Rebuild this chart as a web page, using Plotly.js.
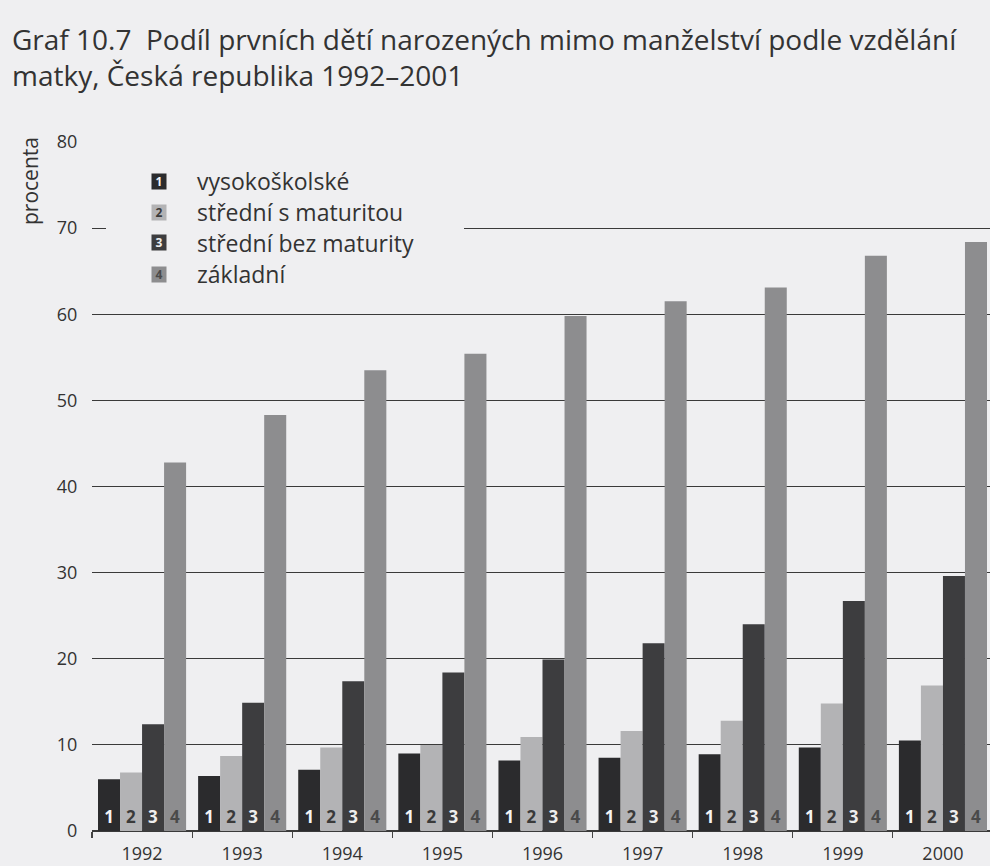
<!DOCTYPE html>
<html>
<head>
<meta charset="utf-8">
<script src="https://cdn.plot.ly/plotly-3.0.1.min.js"></script>
<style>html,body{margin:0;padding:0;background:#efeff1;}#chart{width:990px;height:866px;}</style>
</head>
<body>
<div id="chart"></div>
<script>
const years = ['1992','1993','1994','1995','1996','1997','1998','1999','2000'];
const seriesNames = ['vysokoškolské','střední s maturitou','střední bez maturity','základní'];
const seriesNumbers = ['1','2','3','4'];
const vysokoskolske = [6.0, 6.4, 7.1, 9.0, 8.2, 8.5, 8.9, 9.7, 10.5];
const stredniSMaturitou = [6.8, 8.7, 9.7, 10.0, 10.9, 11.6, 12.8, 14.8, 16.9];
const stredniBezMaturity = [12.4, 14.9, 17.4, 18.4, 19.9, 21.8, 24.0, 26.7, 29.6];
const zakladni = [42.8, 48.3, 53.5, 55.4, 59.8, 61.5, 63.1, 66.8, 68.4];
const yTicks = [0,10,20,30,40,50,60,70,80];

const values = [vysokoskolske, stredniSMaturitou, stredniBezMaturity, zakladni];
const colors = ['#2b2b2d','#b3b3b5','#3d3d3f','#8d8d8f'];
const textColors = ['#f4f4f4','#3a3a3a','#eeeeee','#4a4a4a'];

const traces = values.map((v, i) => ({
  type: 'bar',
  name: seriesNames[i],
  x: years,
  y: v,
  text: years.map(() => seriesNumbers[i]),
  textposition: 'inside',
  insidetextanchor: 'start',
  textangle: 0,
  constraintext: 'none',
  textfont: {family: 'Open Sans, sans-serif', size: 17, color: textColors[i], weight: 700},
  marker: {color: colors[i], line: {width: 0}},
  hoverinfo: 'x+y+name'
}));

const font = 'Open Sans, Noto Sans, sans-serif';
const BG = '#efeff1';

// plot-area pixel geometry used to place the key
const L = 92, W = 898, T = 142, H = 689;
const px = x => (x - L) / W;
const py = y => (T + H - y) / H;

const keyRows = [181, 212, 243, 274];
const keyAnnotations = [];
seriesNames.forEach((name, i) => {
  keyAnnotations.push({
    text: '<b>' + seriesNumbers[i] + '</b>', showarrow: false,
    xref: 'paper', yref: 'paper', x: px(159), y: py(keyRows[i]),
    xanchor: 'center', yanchor: 'middle',
    width: 14, height: 15, bgcolor: colors[i], borderpad: 0,
    font: {family: font, size: 12, color: textColors[i]}
  });
  keyAnnotations.push({
    text: name, showarrow: false,
    xref: 'paper', yref: 'paper', x: px(195), y: py(keyRows[i]),
    xanchor: 'left', yanchor: 'middle',
    font: {family: font, size: 23, color: '#333333'}
  });
});

const layout = {
  width: 990, height: 866,
  paper_bgcolor: BG, plot_bgcolor: BG,
  margin: {l: L, r: 0, t: T, b: 35, pad: 0},
  font: {family: font, color: '#333333', size: 18},
  title: {
    text: 'Graf 10.7  Podíl prvních dětí narozených mimo manželství podle vzdělání<br>matky, Česká republika 1992–2001',
    x: 12/990, xanchor: 'left', xref: 'container',
    y: 1 - 50/866, yanchor: 'top', yref: 'container',
    font: {family: font, size: 28, color: '#333333'}
  },
  barmode: 'group',
  bargap: 0.12,
  bargroupgap: 0,
  showlegend: false,
  xaxis: {
    type: 'category', range: [-0.5, 8.47],
    showgrid: false, zeroline: false, showline: false,
    ticks: 'outside', tickson: 'boundaries', ticklen: 6, tickcolor: '#444', tickwidth: 1.2,
    ticklabelstandoff: 10,
    tickfont: {family: font, size: 18, color: '#333333'},
    fixedrange: true
  },
  yaxis: {
    range: [0, 80], tickvals: yTicks, ticktext: yTicks.map(String),
    showgrid: true, gridcolor: '#3a3a3a', gridwidth: 1.2,
    zeroline: true, zerolinecolor: '#3a3a3a', zerolinewidth: 1.2,
    ticks: 'outside', ticklen: 10, tickcolor: 'rgba(0,0,0,0)',
    tickfont: {family: font, size: 18, color: '#333333'},
    fixedrange: true
  },
  shapes: [{
    type: 'rect', layer: 'above', xref: 'paper', yref: 'paper',
    x0: px(106), x1: px(464), y0: py(292), y1: py(162),
    fillcolor: BG, line: {width: 0}
  }],
  annotations: [{
    text: 'procenta', textangle: -90, showarrow: false,
    xref: 'paper', yref: 'paper', x: px(30), y: py(181),
    xanchor: 'center', yanchor: 'middle',
    font: {family: font, size: 21, color: '#333333'}
  }].concat(keyAnnotations)
};

Plotly.newPlot('chart', traces, layout, {displayModeBar: false, staticPlot: true});
</script>
</body>
</html>
